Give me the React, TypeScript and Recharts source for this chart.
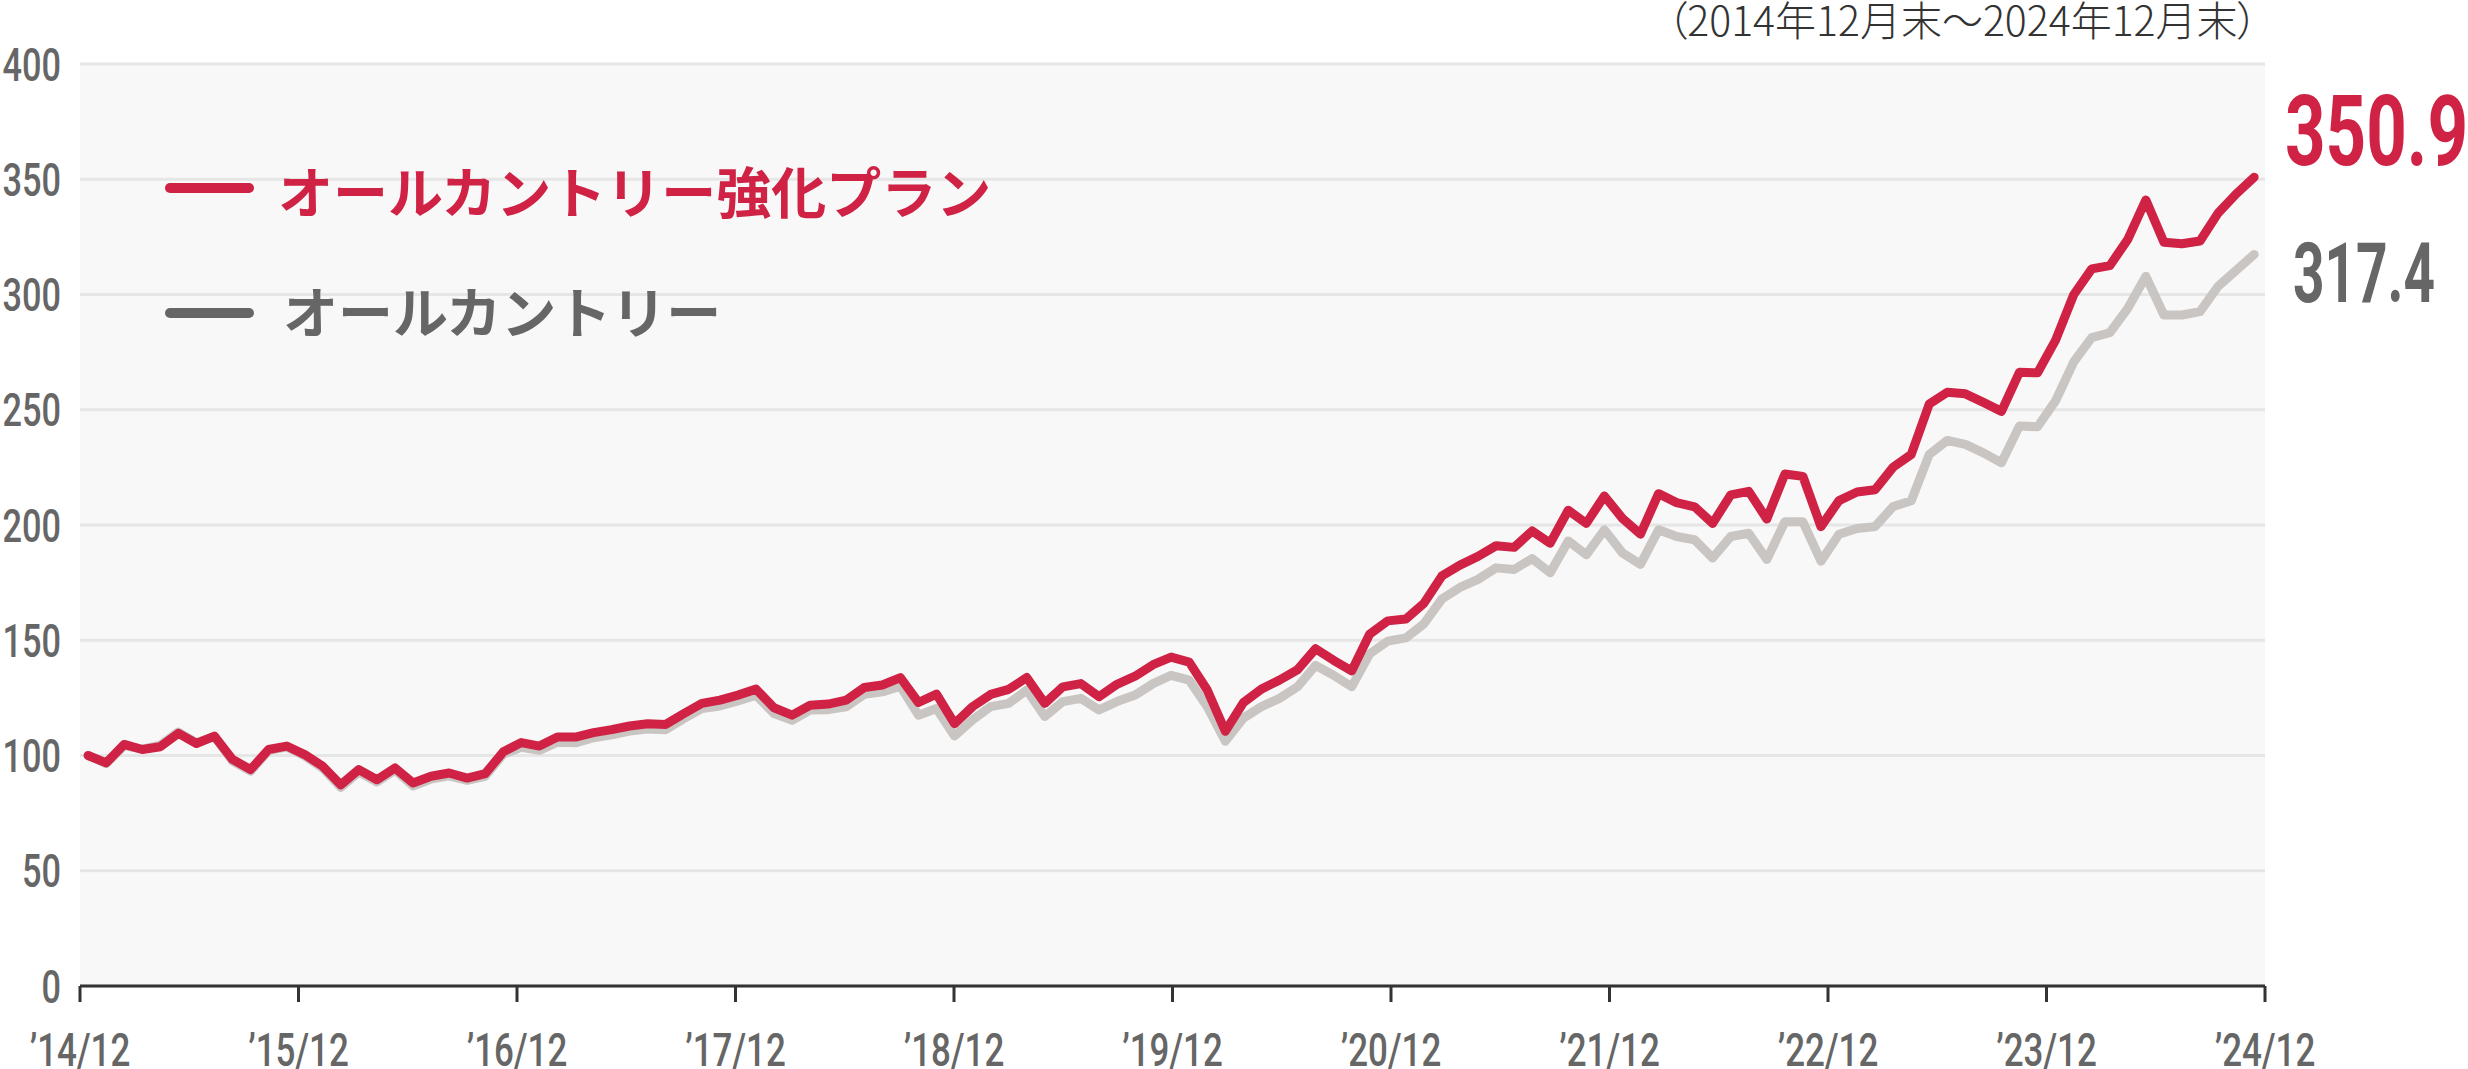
import { LineChart, Line, XAxis, YAxis, CartesianGrid } from 'recharts';

const W = 2468;
const H = 1069;
const RED = '#cf2245';
const GRAY_LINE = '#c9c5c3';
const GRAY_TEXT = '#666666';

const seriesNames = ['オールカントリー強化プラン', 'オールカントリー'];
const periodNote = '（2014年12月末～2024年12月末）';

const xLabels = ['’14/12', '’15/12', '’16/12', '’17/12', '’18/12', '’19/12', '’20/12', '’21/12', '’22/12', '’23/12', '’24/12'];
const yTicks = [0, 50, 100, 150, 200, 250, 300, 350, 400];

// monthly index values, Dec 2014 = 100
const planValues = [
  100, 96.8, 104.8, 102.6, 103.8, 109.6, 105.2, 108.4, 98.3, 93.9, 102.6, 104.1,
  100.4, 95.3, 87.3, 93.9, 89.5, 94.6, 88.1, 91.0, 92.4, 90.2, 92.1, 101.6,
  105.6, 104.1, 108.0, 108.0, 109.9, 111.2, 112.8, 113.8, 113.5, 118.2, 122.6, 124.0,
  126.2, 128.8, 120.7, 117.5, 121.8, 122.3, 124.0, 129.5, 130.6, 133.8, 123.0, 126.6,
  113.8, 121.2, 126.5, 128.7, 133.8, 122.6, 129.8, 131.2, 125.5, 130.9, 134.4, 139.4,
  142.7, 140.5, 128.4, 110.5, 122.9, 128.8, 132.7, 137.2, 146.3, 141.3, 136.7, 152.7,
  158.4, 159.2, 166.0, 177.9, 182.6, 186.4, 191.0, 190.3, 197.4, 192.1, 206.4, 200.7,
  212.6, 202.9, 196.0, 213.6, 209.7, 207.9, 200.7, 213.1, 214.6, 202.6, 222.1, 221.1,
  199.3, 210.6, 214.3, 215.3, 225.1, 230.6, 252.5, 257.6, 256.9, 253.2, 249.3, 266.3,
  266.0, 280.2, 299.9, 311.1, 312.5, 323.9, 341.0, 322.7, 322.0, 323.2, 335.3, 343.6,
  350.9,
];

const acwiValues = [
  100, 96.5, 104.3, 102.8, 104.5, 110.2, 105.5, 108.2, 97.6, 93.2, 102.2, 103.7,
  99.8, 94.5, 86.2, 92.8, 88.5, 93.7, 86.8, 89.8, 91.2, 89.2, 91.0, 100.6,
  103.6, 102.2, 105.8, 105.5, 107.7, 109.0, 110.6, 111.5, 111.2, 116.0, 120.4, 121.5,
  123.7, 126.2, 118.2, 115.3, 119.7, 119.9, 121.1, 126.5, 127.6, 130.1, 117.5, 120.4,
  108.5, 115.5, 121.2, 122.6, 128.4, 116.9, 123.4, 124.8, 119.8, 123.4, 126.2, 131.2,
  134.8, 132.7, 121.2, 106.2, 116.2, 121.2, 124.8, 129.8, 139.1, 134.8, 129.8, 144.1,
  149.6, 151.0, 157.1, 167.9, 172.9, 176.4, 181.4, 180.7, 185.4, 179.3, 193.1, 187.1,
  197.9, 187.9, 182.9, 197.9, 195.0, 193.6, 185.7, 195.0, 196.4, 185.0, 201.4, 201.4,
  184.3, 196.0, 198.5, 199.3, 208.0, 210.5, 230.6, 236.7, 235.0, 231.3, 227.0, 243.0,
  242.6, 253.9, 270.7, 281.3, 283.4, 294.0, 307.9, 291.1, 291.1, 292.6, 303.5, 310.5,
  317.4,
];

// the lines sit a little inside the first and last axis ticks
const X_MIN = -0.45;
const X_MAX = 120.6;
const xTicks = xLabels.map((_, i) => X_MIN + (i * (X_MAX - X_MIN)) / (xLabels.length - 1));

const data = planValues.map((v, i) => ({ m: i, plan: v, acwi: acwiValues[i] }));

const YTick = ({ y, payload }: any) => (
  <text
    transform={`translate(61,${y + 16.7}) scale(0.73,1)`}
    textAnchor="end"
    fontFamily="Roboto"
    fontWeight={500}
    fontSize={47}
    fill={GRAY_TEXT}
  >
    {payload.value}
  </text>
);

const XTick = ({ x, index }: any) => (
  <text
    transform={`translate(${x},1066) scale(0.76,1)`}
    textAnchor="middle"
    fontFamily="Roboto"
    fontWeight={500}
    fontSize={46}
    fill={GRAY_TEXT}
  >
    {xLabels[index]}
  </text>
);

const App = () => {
  const lastPlan = planValues[planValues.length - 1].toFixed(1);
  const lastAcwi = acwiValues[acwiValues.length - 1].toFixed(1);
  return (
    <div style={{ position: 'relative', width: W, height: H, background: '#fff' }}>
      <style>{'body{margin:0}'}</style>
      <LineChart width={W} height={H} data={data} margin={{ top: 64, right: 203, bottom: 0, left: 0 }}>
        <CartesianGrid vertical={false} fill="#f8f8f8" stroke="#e6e6e6" strokeWidth={3} />
        <XAxis
          dataKey="m"
          type="number"
          domain={[X_MIN, X_MAX]}
          ticks={xTicks}
          interval={0}
          height={83}
          tick={<XTick />}
          axisLine={{ stroke: '#333', strokeWidth: 3 }}
          tickLine={{ stroke: '#333', strokeWidth: 3 }}
          tickSize={16}
        />
        <YAxis
          domain={[0, 400]}
          ticks={yTicks}
          interval={0}
          width={80}
          axisLine={false}
          tickLine={false}
          tick={<YTick />}
        />
        <Line
          dataKey="acwi"
          stroke={GRAY_LINE}
          strokeWidth={9}
          strokeLinejoin="round"
          strokeLinecap="round"
          dot={false}
          isAnimationActive={false}
        />
        <Line
          dataKey="plan"
          stroke={RED}
          strokeWidth={9}
          strokeLinejoin="round"
          strokeLinecap="round"
          dot={false}
          isAnimationActive={false}
        />
      </LineChart>
      <svg width={W} height={H} style={{ position: 'absolute', left: 0, top: 0, pointerEvents: 'none' }}>
        <text
          x={2258}
          y={36}
          textAnchor="end"
          fontFamily="Noto Sans CJK JP"
          fontWeight={300}
          fontSize={41}
          fill="#333"
          style={{ fontFeatureSettings: '"palt"' }}
        >
          {periodNote}
        </text>
        <line x1={170} x2={249} y1={188} y2={188} stroke={RED} strokeWidth={10} strokeLinecap="round" />
        <text x={278} y={213} fontFamily="Noto Sans CJK JP" fontWeight={700} fontSize={55} fill={RED}>
          {seriesNames[0]}
        </text>
        <line x1={170} x2={249} y1={313} y2={313} stroke={GRAY_TEXT} strokeWidth={10} strokeLinecap="round" />
        <text x={283} y={333} fontFamily="Noto Sans CJK JP" fontWeight={700} fontSize={55} fill={GRAY_TEXT}>
          {seriesNames[1]}
        </text>
        <text
          x={2285}
          y={165}
          fontFamily="Roboto"
          fontWeight={700}
          fontSize={98}
          fill={RED}
          textLength={183}
          lengthAdjust="spacingAndGlyphs"
        >
          {lastPlan}
        </text>
        <text
          x={2293}
          y={302}
          fontFamily="Roboto"
          fontWeight={700}
          fontSize={84}
          fill={GRAY_TEXT}
          textLength={142}
          lengthAdjust="spacingAndGlyphs"
        >
          {lastAcwi}
        </text>
      </svg>
    </div>
  );
};

export default App;
